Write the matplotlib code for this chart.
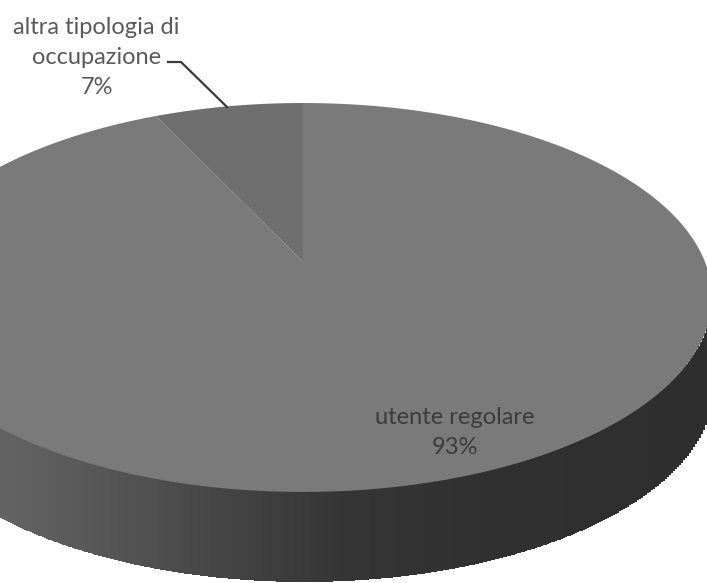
import numpy as np
import matplotlib
matplotlib.use("Agg")
import matplotlib.pyplot as plt
from matplotlib.patches import Polygon

label_lines_small = ["altra tipologia di", "occupazione", "7%"]
label_lines_main = ["utente regolare", "93%"]
shares = [7, 93]

# pie geometry in image pixels (tilted disc with perspective)
CX, CY = 303, 262
RX, RY = 402, 188
K = 0.1825
DEPTH = 90

# grey of the rim, left to right
rim_x = [-100, 0, 120, 220, 340, 480, 707]
rim_grey = [0.42, 0.39, 0.33, 0.27, 0.21, 0.19, 0.18]


def project(theta):
    # theta clockwise from 12 o'clock
    u, v = np.sin(theta), np.cos(theta)
    w = 1 + K * v
    return CX + RX * u / w, CY - RY * v / w


fig = plt.figure(figsize=(7.07, 5.83), dpi=100)
ax = fig.add_axes([0, 0, 1, 1])
ax.set_xlim(0, 707)
ax.set_ylim(583, 0)
ax.axis("off")

# rim: thin vertical strips under the lower half of the disc
t = np.linspace(0, 2 * np.pi, 1441)
ex, ey = project(t)
right = int(np.argmax(ex))
left = int(np.argmin(ex))
lx, ly = ex[right:left + 1], ey[right:left + 1]
order = np.argsort(lx)
lx, ly = lx[order], ly[order]
xs = np.arange(-100, 708, 2.0)
edge = np.interp(xs, lx, ly)
for x0, y0 in zip(xs, edge):
    g = np.interp(x0, rim_x, rim_grey)
    ax.fill_between([x0, x0 + 2.5], y0 - 2, y0 + DEPTH, color=str(g), lw=0, zorder=1)

# top face, slices measured clockwise from 12 o'clock
small = 2 * np.pi * shares[0] / sum(shares)
t_main = np.linspace(0, 2 * np.pi - small, 800)
mx, my = project(t_main)
ax.add_patch(Polygon(np.r_[[[CX, CY]], np.c_[mx, my]], fc="#7a7a7a", ec="none", zorder=2))
t_small = np.linspace(2 * np.pi - small, 2 * np.pi, 80)
sx, sy = project(t_small)
ax.add_patch(Polygon(np.r_[[[CX, CY]], np.c_[sx, sy]], fc="#6f6f6f", ec="none", zorder=3))

# leader line
ax.plot([168, 181, 227], [62, 62, 107], color="#3a3a3a", lw=1.6, zorder=4)

font = ["Lato", "DejaVu Sans"]
for line, y in zip(label_lines_small, [27, 57, 87]):
    ax.text(96.5, y, line, ha="center", va="center", fontsize=17,
            color="#5a5a5a", family=font)
for line, y in zip(label_lines_main, [417, 448]):
    ax.text(455, y, line, ha="center", va="center", fontsize=17,
            color="#3c3c3c", family=font)

fig.savefig("out.png", dpi=100)
